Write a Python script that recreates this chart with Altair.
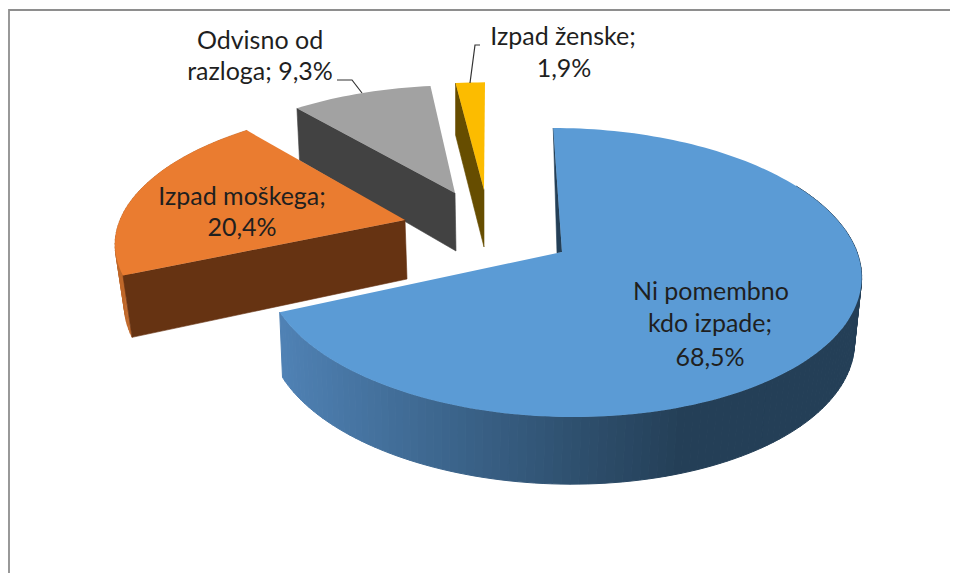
import math
import altair as alt

# ---- data ----
slices = ["Ni pomembno kdo izpade", "Izpad moškega", "Odvisno od razloga", "Izpad ženske"]
share = [68.5, 20.4, 9.3, 1.9]
top_colors = ["#5b9bd5", "#ea7c30", "#a2a2a2", "#fcbc00"]
cut_colors = ["#243f57", "#663312", "#424242", "#664d00"]
wall_colors = ["#243f57", "#c0682a", "#424242", "#664d00"]

# ---- layout: fitted perspective per exploded wedge (page pixels) ----
OFF = 8
fits = [
    dict(tip=(562, 252), a=295, b=141.6, k=0.142, s=-10, d=(-2, 64), fx=0.983, fy=1.019),
    dict(tip=(405, 220), a=285, b=130.5, k=0.145, s=11.3, d=(2, 59), fx=0.975, fy=1.05),
    dict(tip=(455, 193), a=278, b=123.6, k=0.148, s=5, d=(1, 58), fx=0.99, fy=1.07),
    dict(tip=(484, 190), a=284, b=123.6, k=0.148, s=1.15, d=(0, 57), fx=1.0, fy=1.047),
]


def rim(f, deg, bottom=False):
    t = math.radians(deg)
    X, Y = math.sin(t), math.cos(t)
    w = 1 + f["k"] * Y
    dx = (f["a"] * X + f["s"] * Y) / w
    dy = -f["b"] * Y / w
    if bottom:
        return (f["tip"][0] + f["d"][0] + f["fx"] * dx - OFF, f["tip"][1] + f["d"][1] + f["fy"] * dy - OFF)
    return (f["tip"][0] + dx - OFF, f["tip"][1] + dy - OFF)


def apex(f, bottom=False):
    if bottom:
        return (f["tip"][0] + f["d"][0] - OFF, f["tip"][1] + f["d"][1] - OFF)
    return (f["tip"][0] - OFF, f["tip"][1] - OFF)


def poly(points, **props):
    ring = [list(p) for p in points] + [list(points[0])]
    return {"type": "Feature", "geometry": {"type": "Polygon", "coordinates": [ring]}, "properties": props}


def line(points):
    return {"type": "Feature", "geometry": {"type": "LineString", "coordinates": [list(p) for p in points]},
            "properties": {"k": 1}}


def layer_of(features):
    return alt.InlineData(values={"type": "FeatureCollection", "features": features},
                          format=alt.DataFormat(property="features", type="json"))


identity = dict(type="identity", scale=1, translate=[0, 0])
all_colors = sorted(set(top_colors + cut_colors + wall_colors))
flat_scale = alt.Scale(domain=all_colors, range=all_colors)
shade_scale = alt.Scale(domain=[282, 683], range=["#4f81b4", "#243f57"], clamp=True)

spans = []
start = 0.0
total = sum(share)
for v in share:
    end = start + 360 * v / total
    spans.append((start, end))
    start = end

layers = []
order = [3, 2, 1, 0]
for i in order:
    f = fits[i]
    a0, a1 = spans[i]
    n = max(4, int((a1 - a0) / 1.5))
    angles = [a0 + (a1 - a0) * j / n for j in range(n + 1)]

    # cut face and outer wall
    walls = []
    flat = []
    if i == 0:
        c = rim(f, a0)
        t = apex(f)
        flat.append(poly([c, t, (t[0] - 5, t[1] + 1)], fill=cut_colors[i]))
        visible = [x for x in angles if x > 60]
        for p, q in zip(visible[:-1], visible[1:]):
            p0, p1 = rim(f, p), rim(f, q)
            walls.append(poly([p0, p1, rim(f, q, True), rim(f, p, True)], shade=(p0[0] + p1[0]) / 2 + OFF))
    else:
        flat.append(poly([rim(f, a0), apex(f), apex(f, True), rim(f, a0, True)], fill=cut_colors[i]))
        if i == 1:
            for p, q in zip(angles[:-1], angles[1:]):
                flat.insert(0, poly([rim(f, p), rim(f, q), rim(f, q, True), rim(f, p, True)], fill=wall_colors[i]))

    if walls:
        layers.append(
            alt.Chart(layer_of(walls)).mark_geoshape(strokeWidth=1).encode(
                fill=alt.Fill("properties.shade:Q", legend=None, scale=shade_scale),
                stroke=alt.Stroke("properties.shade:Q", legend=None, scale=shade_scale),
            ).project(**identity)
        )
    top = poly([apex(f)] + [rim(f, x) for x in angles], fill=top_colors[i])
    layers.append(
        alt.Chart(layer_of(flat)).mark_geoshape(strokeWidth=0.6).encode(
            fill=alt.Fill("properties.fill:N", scale=flat_scale, legend=None),
            stroke=alt.Stroke("properties.fill:N", scale=flat_scale, legend=None),
        ).project(**identity)
    )
    layers.append(
        alt.Chart(layer_of([top])).mark_geoshape(strokeWidth=0).encode(
            fill=alt.Fill("properties.fill:N", scale=flat_scale, legend=None),
        ).project(**identity)
    )

# frame of the picture
layers.insert(0, alt.Chart(layer_of([line([(1, 565), (1, 2), (942, 2)])])).mark_geoshape(
    filled=False, stroke="#8e8e8e", strokeWidth=1.8).project(**identity))

# leader lines
layers.append(alt.Chart(layer_of([line([(329, 72), (344, 72), (354, 85)]),
                                  line([(472, 37), (467, 37), (462, 75)])])).mark_geoshape(
    filled=False, stroke="#333333", strokeWidth=1.2).project(**identity))

# labels
labels = [
    ("Odvisno od", 260, 41), ("razloga; 9,3%", 260, 72),
    ("Izpad ženske;", 563, 37), ("1,9%", 564, 69),
    ("Izpad moškega;", 242, 197), ("20,4%", 242, 228),
    ("Ni pomembno", 711, 292), ("kdo izpade;", 710, 324), ("68,5%", 710, 358),
]
for text, x, y in labels:
    layers.append(alt.Chart(alt.Data(values=[{"t": text}])).mark_text(
        font="Lato", fontSize=25, color="#1f1f1f", align="center", baseline="middle").encode(
        text="t:N", x=alt.value(x - OFF), y=alt.value(y - OFF)))

chart = alt.layer(*layers).properties(
    width=942, height=565, padding=0, autosize=alt.AutoSizeParams(type="none")
).configure_view(stroke=None)

chart.save("out.html", embed_options={"renderer": "svg", "actions": False})
